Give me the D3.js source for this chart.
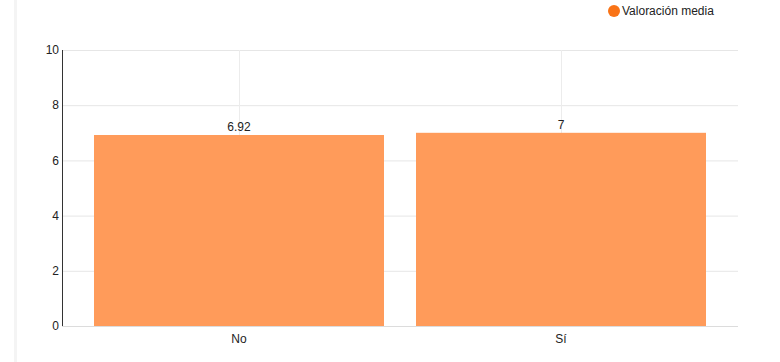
<!DOCTYPE html>
<html>
<head>
<meta charset="utf-8">
<script src="https://cdn.jsdelivr.net/npm/d3@7"></script>
<style>
  body { margin: 0; background: #fff; font-family: "Liberation Sans", Arial, sans-serif; }
  svg { display: block; }
</style>
</head>
<body>
<svg id="chart" width="780" height="362"></svg>
<script>
'use strict';

// Datos del gráfico
var categories = ["No", "Sí"];
var values = [6.92, 7];
var seriesName = "Valoración media";
var yTicks = [0, 2, 4, 6, 8, 10];

var W = 780, H = 362;
var margin = {top: 50, right: 42, bottom: 36, left: 62};
var svg = d3.select("#chart");

// Franja gris a la izquierda
svg.append("rect")
    .attr("x", 14).attr("y", 0)
    .attr("width", 3).attr("height", H)
    .attr("fill", "#f4f4f4");

var x = d3.scaleBand()
    .domain(categories)
    .range([margin.left, W - margin.right])
    .paddingInner(0.0994)
    .paddingOuter(0.0994);

var y = d3.scaleLinear()
    .domain([0, 10])
    .range([H - margin.bottom, margin.top]);

// Rejilla horizontal
svg.append("g").selectAll("line").data(yTicks).enter().append("line")
    .attr("x1", margin.left).attr("x2", W - margin.right)
    .attr("y1", function(d) { return y(d) + 0.5; })
    .attr("y2", function(d) { return y(d) + 0.5; })
    .attr("stroke", "#e6e6e6");

// Rejilla vertical (centros de categoría)
svg.append("g").selectAll("line").data(categories).enter().append("line")
    .attr("x1", function(d) { return Math.round(x(d) + x.bandwidth() / 2) + 0.5; })
    .attr("x2", function(d) { return Math.round(x(d) + x.bandwidth() / 2) + 0.5; })
    .attr("y1", margin.top).attr("y2", H - margin.bottom)
    .attr("stroke", "#ececec");

// Barras
svg.append("g").selectAll("rect").data(values).enter().append("rect")
    .attr("x", function(d, i) { return x(categories[i]); })
    .attr("width", x.bandwidth())
    .attr("y", function(d) { return y(d); })
    .attr("height", function(d) { return y(0) - y(d); })
    .attr("fill", "#ff9b5a");

// Etiquetas de valor
svg.append("g").selectAll("text").data(values).enter().append("text")
    .attr("x", function(d, i) { return x(categories[i]) + x.bandwidth() / 2; })
    .attr("y", function(d) { return y(d) - 4; })
    .attr("text-anchor", "middle")
    .attr("font-size", 12)
    .attr("fill", "#222")
    .text(function(d) { return d; });

// Eje Y
svg.append("line")
    .attr("x1", margin.left + 0.5).attr("x2", margin.left + 0.5)
    .attr("y1", margin.top).attr("y2", H - margin.bottom)
    .attr("stroke", "#333");
svg.append("g").selectAll("text").data(yTicks).enter().append("text")
    .attr("x", margin.left - 3)
    .attr("y", function(d) { return y(d); })
    .attr("dy", "0.35em")
    .attr("text-anchor", "end")
    .attr("font-size", 12)
    .attr("fill", "#222")
    .text(function(d) { return d; });

// Eje X
svg.append("line")
    .attr("x1", margin.left).attr("x2", W - margin.right)
    .attr("y1", y(0) + 0.5).attr("y2", y(0) + 0.5)
    .attr("stroke", "#dcdcdc");
svg.append("g").selectAll("text").data(categories).enter().append("text")
    .attr("x", function(d) { return x(d) + x.bandwidth() / 2; })
    .attr("y", y(0) + 17)
    .attr("text-anchor", "middle")
    .attr("font-size", 12)
    .attr("fill", "#222")
    .text(function(d) { return d; });

// Leyenda
var legend = svg.append("g").attr("transform", "translate(614,11)");
legend.append("circle").attr("r", 6).attr("fill", "#f97316");
legend.append("text")
    .attr("x", 8).attr("dy", "0.35em")
    .attr("font-size", 12)
    .attr("fill", "#222")
    .text(seriesName);
</script>
</body>
</html>
